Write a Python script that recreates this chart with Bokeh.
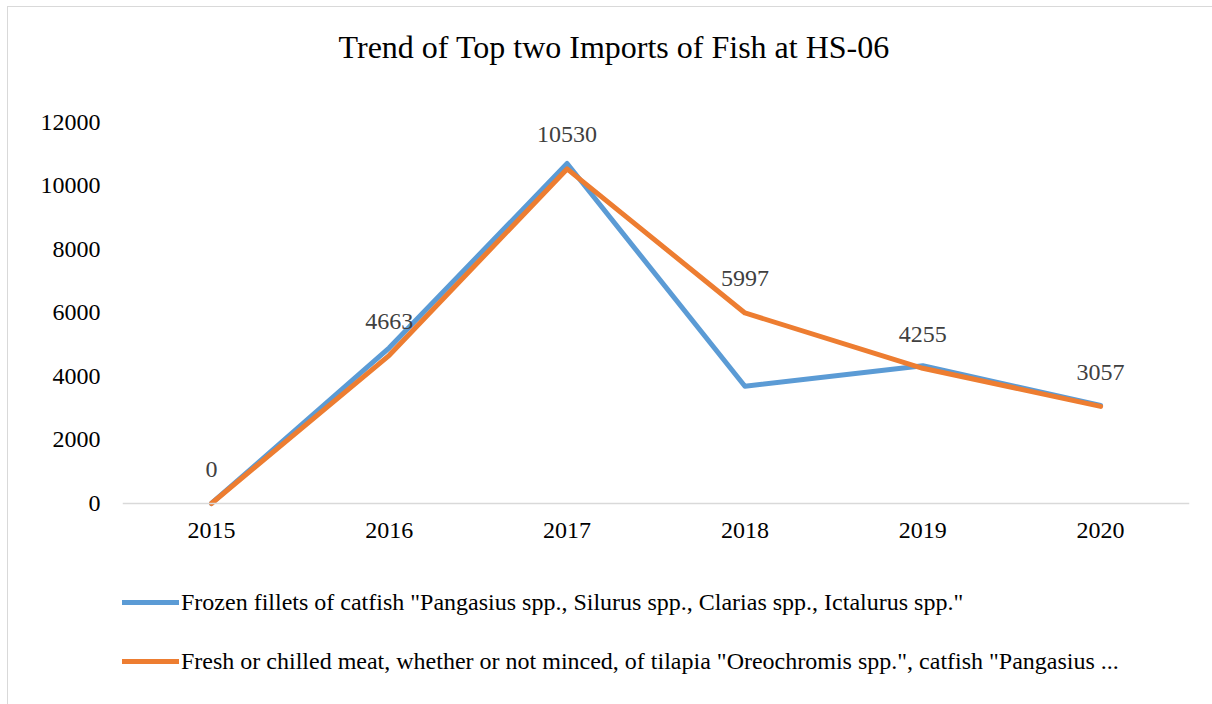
from bokeh.plotting import figure
from bokeh.models import (Range1d, FixedTicker, Legend, LegendItem, ColumnDataSource, Label)
from bokeh.core.properties import value
from bokeh.embed import file_html
from bokeh.resources import INLINE

years = ["2015", "2016", "2017", "2018", "2019", "2020"]
frozen_fillets = [0, 4900, 10700, 3690, 4335, 3085]
fresh_chilled = [0, 4663, 10530, 5997, 4255, 3057]
y_ticks = [0, 2000, 4000, 6000, 8000, 10000, 12000]

title_text = "Trend of Top two Imports of Fish at HS-06"
name_a = 'Frozen fillets of catfish "Pangasius spp., Silurus spp., Clarias spp., Ictalurus spp."'
name_b = ('Fresh or chilled meat, whether or not minced, of tilapia "Oreochromis spp.", '
          'catfish "Pangasius ...')

FONT = "Liberation Serif"
xs = [i + 0.5 for i in range(len(years))]

# frame spans the whole canvas height; y range extended so that 0..12000 sits
# where the reference plot area is (title above, legend below inside the frame)
p = figure(width=1205, height=698, output_backend="svg", toolbar_location=None,
           x_range=Range1d(0, len(years)), y_range=Range1d(-6358, 15610),
           min_border_left=114, min_border_right=24, min_border_top=0,
           min_border_bottom=0, margin=(6, 0, 0, 7))
p.styles = {"border-left": "1px solid #d9d9d9", "border-top": "1px solid #d9d9d9"}
p.outline_line_color = None
p.background_fill_color = "white"
p.border_fill_color = "white"
p.xgrid.visible = False
p.ygrid.visible = False

# axes
p.xaxis.fixed_location = 0
p.xaxis.ticker = FixedTicker(ticks=xs)
p.xaxis.major_label_overrides = {x: y for x, y in zip(xs, years)}
p.xaxis.axis_line_color = "#d9d9d9"
p.xaxis.axis_line_width = 1.5
p.xaxis.major_tick_line_color = None
p.xaxis.minor_tick_line_color = None
p.xaxis.major_label_standoff = 14
p.yaxis.ticker = FixedTicker(ticks=y_ticks)
p.yaxis.axis_line_color = None
p.yaxis.major_tick_line_color = None
p.yaxis.minor_tick_line_color = None
p.yaxis.major_label_standoff = 16
for ax in (p.xaxis, p.yaxis):
    ax.major_label_text_font = FONT
    ax.major_label_text_font_size = "24px"
    ax.major_label_text_color = "#000000"

src = ColumnDataSource(dict(x=xs, a=frozen_fillets, b=fresh_chilled,
                            lbl=[str(v) for v in fresh_chilled]))
ra = p.line("x", "a", source=src, line_color="#5B9BD5", line_width=5,
            line_cap="round", line_join="round")
rb = p.line("x", "b", source=src, line_color="#ED7D31", line_width=5,
            line_cap="round", line_join="round")
p.text("x", "b", text="lbl", source=src, text_font=value(FONT),
       text_font_size="24px", text_color="#404040", text_align="center",
       text_baseline="middle", y_offset=-34)

p.add_layout(Label(x=2.765, y=14382, text=title_text, text_font=FONT,
                   text_font_size="32px", text_color="#000000",
                   text_align="center", text_baseline="alphabetic"))

legend = Legend(items=[LegendItem(label=name_a, renderers=[ra]),
                       LegendItem(label=name_b, renderers=[rb])],
                location=(0, 30), orientation="vertical",
                label_text_font=FONT, label_text_font_size="24px",
                label_text_color="#000000", glyph_width=57, glyph_height=28,
                label_height=28, spacing=31, label_standoff=2, padding=0,
                margin=0, border_line_color=None, background_fill_alpha=0)
p.add_layout(legend, "center")

open("out.html", "w").write(file_html(p, INLINE))
